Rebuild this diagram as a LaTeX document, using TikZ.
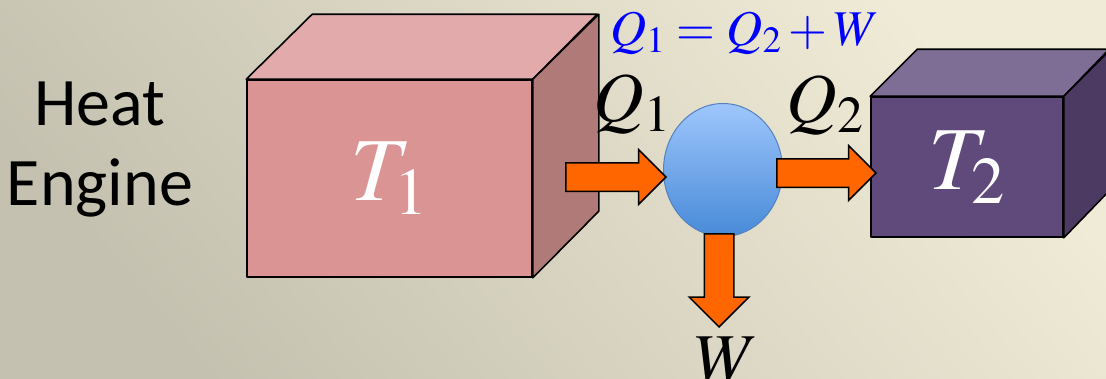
\documentclass[tikz,border=0pt]{standalone}
\usepackage{mathptmx}
\usepackage{fontspec}
\setmainfont{Carlito}
\usepackage{tikz}
\usetikzlibrary{shapes.geometric,shapes.arrows}
\definecolor{bglight}{RGB}{240,235,214}
\definecolor{bgdark}{RGB}{196,193,176}
\definecolor{hotfront}{RGB}{218,148,148}
\definecolor{hottop}{RGB}{226,170,170}
\definecolor{hotside}{RGB}{176,122,120}
\definecolor{coldfront}{RGB}{95,74,123}
\definecolor{coldtop}{RGB}{126,110,150}
\definecolor{coldside}{RGB}{76,58,98}
\definecolor{flow}{RGB}{255,102,0}
\definecolor{engtop}{RGB}{158,198,252}
\definecolor{engbot}{RGB}{72,138,216}
\definecolor{engline}{RGB}{84,130,190}

\begin{document}
\begin{tikzpicture}[x=1pt,y=-1pt,
    face/.style={draw, line width=1.6pt, line join=round},
    heatflow/.style={single arrow, draw, line width=1.5pt, fill=flow,
      inner xsep=0pt, inner ysep=13.5pt, single arrow head extend=13pt,
      single arrow head indent=0pt},
    lbl/.style={font=\fontsize{70}{70}\selectfont, inner sep=0pt}]
  \useasboundingbox (0,0) rectangle (1106,378);
  \shade[top color=bglight, bottom color=bgdark, shading angle=-50]
    (0,0) rectangle (1106,378);

  % title
  \node[align=center, font=\fontsize{68}{80}\selectfont] (title) at (100,150)
    {Heat\\Engine};

  % hot reservoir
  \node[face, fill=hotfront, minimum width=285pt, minimum height=197pt,
        font=\fontsize{90}{90}\selectfont, text=white] (hot) at (389.5,178.5)
    {$T_1$};
  \draw[face, fill=hottop] (hot.north west) -- ++(66,-65) -- ++(285,0)
    -- (hot.north east) -- cycle;
  \draw[face, fill=hotside] (hot.north east) -- ++(66,-65) -- ++(0,197)
    -- (hot.south east) -- cycle;

  % cold reservoir
  \node[face, fill=coldfront, minimum width=192pt, minimum height=140pt,
        font=\fontsize{90}{90}\selectfont, text=white] (cold) at (967,167)
    {$T_2$};
  \draw[face, fill=coldtop] (cold.north west) -- ++(47,-47) -- ++(192,0)
    -- (cold.north east) -- cycle;
  \draw[face, fill=coldside] (cold.north east) -- ++(47,-47) -- ++(0,140)
    -- (cold.south east) -- cycle;

  % engine
  \node[ellipse, draw=engline, line width=1pt, top color=engtop,
        bottom color=engbot, minimum width=119pt, minimum height=133pt]
    (eng) at (723,170) {};

  % flows
  \node[heatflow, minimum height=100pt, anchor=tip] (qin) at (667,177) {};
  \node[heatflow, minimum height=99pt, anchor=tip] (qout) at (877,173) {};
  \node[heatflow, minimum height=93pt, inner xsep=14pt, inner ysep=0pt,
        single arrow head extend=15pt, shape border rotate=270, anchor=tip]
    (work) at (719,328) {};

  % labels
  \node[lbl] (q1) at (632,104) {$Q_1$};
  \node[lbl] (q2) at (825,105) {$Q_2$};
  \node[lbl] (w) at (727,360) {$W$};
  \node[lbl, font=\fontsize{50}{50}\selectfont, text=blue] (balance)
    at (745,33) {$Q_1=Q_2+W$};
\end{tikzpicture}
\end{document}
